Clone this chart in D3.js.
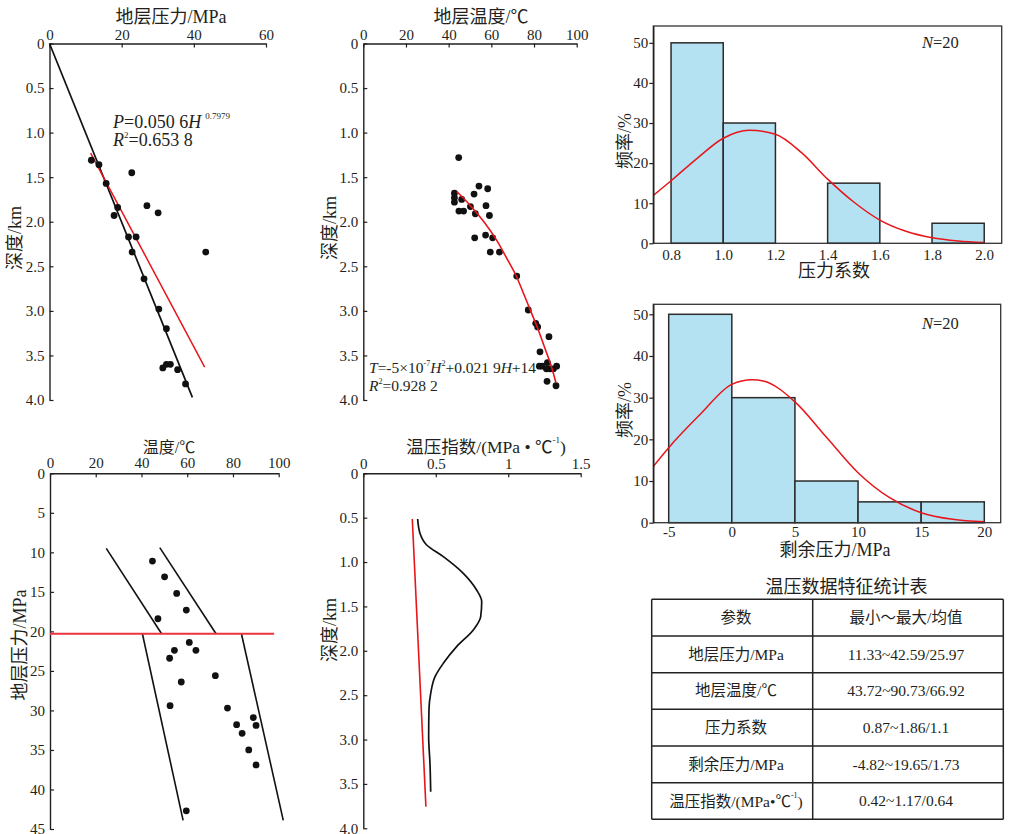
<!DOCTYPE html>
<html><head><meta charset="utf-8">
<script src="https://cdn.jsdelivr.net/npm/d3@7"></script>
<style>
body{margin:0;background:#fff;}
svg{display:block;font-family:"Liberation Serif","Noto Sans CJK SC",serif;}
</style></head><body>
<svg id="c" width="1013" height="834"></svg>
<script>
// ---------------- DATA ----------------
// Panel 1: formation pressure vs depth
const p1Pressure = [11.6,13.7,15.7,18.9,17.9,22.8,27.0,30.1,21.9,24.0,22.9,43.3,26.2,30.3,32.4,31.4,32.4,33.5,35.5,37.7];
const p1Depth    = [1.31,1.36,1.57,1.84,1.93,1.45,1.82,1.90,2.17,2.17,2.34,2.34,2.64,2.98,3.20,3.64,3.60,3.60,3.66,3.82];
const p1BlackP = [0, 39.6], p1BlackH = [0, 3.97];
const p1RedP = [11.4, 43.0], p1RedH = [1.23, 3.63];
const p1XTicks = [0,20,40,60];
const depthTicks = [0,0.5,1.0,1.5,2.0,2.5,3.0,3.5,4.0];
const depthTickLabels = ["0","0.5","1.0","1.5","2.0","2.5","3.0","3.5","4.0"];

// Panel 2: formation temperature vs depth
const p2Temp  = [44.7,42.7,42.7,42.7,46.1,44.8,47.0,50.2,51.9,54.2,58.3,57.5,52.5,59.1,52.2,57.3,60.6,59.5,63.8,71.9,77.3,80.8,81.7,87.0,82.8,82.5,83.9,86.3,85.8,87.5,89.1,90.6,86.1,90.3];
const p2Depth = [1.28,1.68,1.73,1.78,1.75,1.88,1.88,1.83,1.69,1.60,1.63,1.82,1.91,1.93,2.18,2.15,2.18,2.34,2.34,2.61,2.99,3.14,3.18,3.29,3.46,3.62,3.62,3.58,3.65,3.65,3.65,3.62,3.79,3.84];
const p2FitDepth = [1.66,1.8,2.0,2.2,2.4,2.6,2.8,3.0,3.2,3.4,3.6,3.81];
const p2FitTemp  = [43.8,49.5,56.5,62.3,67.0,71.5,75.0,78.4,81.8,84.8,87.8,90.3];
const p2XTicks = [0,20,40,60,80,100];

// Panel 3: temperature vs pressure
const p3Temp     = [44.8,50.1,55.4,59.6,47.2,60.9,63.8,54.4,52.3,57.4,72.3,52.5,77.6,81.6,84.0,88.9,90.1,86.9,90.1,59.6];
const p3Pressure = [11.1,13.1,15.2,17.3,18.4,21.4,22.4,22.4,23.4,26.4,25.6,29.4,29.7,31.8,32.9,30.9,31.9,35.0,36.9,42.7];
const p3Lines = [
  {t:[24.6,48.8], p:[9.5,20.3]},
  {t:[48.0,72.6], p:[9.4,20.3]},
  {t:[40.4,58.2], p:[20.3,43.9]},
  {t:[83.7,102.0], p:[20.3,43.9]}
];
const p3RedT = [0, 98], p3RedP = [20.3, 20.3];
const p3XTicks = [0,20,40,60,80,100];
const p3YTicks = [0,5,10,15,20,25,30,35,40,45];

// Panel 4: temperature-pressure index vs depth
const p4Depth = [0.515,0.676,0.808,0.939,1.127,1.315,1.446,1.615,1.765,1.953,2.141,2.291,2.479,2.667,2.967,3.268,3.587];
const p4Index = [0.375,0.391,0.437,0.552,0.690,0.782,0.817,0.810,0.759,0.644,0.552,0.495,0.465,0.453,0.451,0.460,0.465];
const p4RedIdx = [0.338, 0.432], p4RedDepth = [0.515, 3.756];
const p4XTicks = [0,0.5,1,1.5];
const p4XTickLabels = ["0","0.5","1","1.5"];

// Histogram 1: pressure coefficient
const h1Bins  = [[0.8,1.0],[1.0,1.2],[1.4,1.6],[1.8,2.0]];
const h1Freq  = [50,30,15,5];
const h1CurveX = [0.733,0.8,0.9,1.0,1.1,1.2,1.3,1.4,1.5,1.6,1.7,1.8,1.9,2.0];
const h1CurveY = [12.0,15.6,21.2,26.2,28.2,27.2,22.6,16.0,10.3,5.8,3.0,1.4,0.6,0.2];
const h1XTicks = [0.8,1.0,1.2,1.4,1.6,1.8,2.0];
const histYTicks = [0,10,20,30,40,50];

// Histogram 2: residual pressure
const h2Bins = [[-5,0],[0,5],[5,10],[10,15],[15,20]];
const h2Freq = [50,30,10,5,5];
const h2CurveX = [-6.22,-5,-2.5,0,1.6,2.5,5,7.5,10,12.5,15,17.5,20];
const h2CurveY = [13.5,18,26,33.2,34.3,34,29,20.5,12,6,2.4,0.8,0.2];
const h2XTicks = [-5,0,5,10,15,20];

// Table
const tableTitle = "温压数据特征统计表";
const tableHead = ["参数","最小～最大/均值"];
const tableParams = ["地层压力/MPa","地层温度/℃","压力系数","剩余压力/MPa","温压指数/(MPa•℃-1)"];
const tableValues = ["11.33~42.59/25.97","43.72~90.73/66.92","0.87~1.86/1.1","-4.82~19.65/1.73","0.42~1.17/0.64"];

// ---------------- DRAW ----------------
const INK = "#231f20", RED = "#e8151b";
const svg = d3.select("#c");

function styleAxis(g, fs){
  g.selectAll("path.domain").attr("stroke",INK).attr("stroke-width",1.4);
  g.selectAll(".tick line").attr("stroke",INK).attr("stroke-width",1.2);
  g.selectAll(".tick text").attr("fill",INK).attr("font-size",fs||15)
    .attr("font-family","Liberation Serif, serif");
}
function yLabel(text, cx, cy, fs){
  svg.append("text").attr("transform",`translate(${cx},${cy}) rotate(-90)`)
    .attr("text-anchor","middle").attr("dominant-baseline","central")
    .attr("font-size",fs||18).attr("fill",INK).text(text);
}
function title(text, cx, cy, fs){
  return svg.append("text").attr("x",cx).attr("y",cy).attr("text-anchor","middle")
    .attr("dominant-baseline","central").attr("font-size",fs||18).attr("fill",INK).text(text);
}
function topAxis(x, ty, ticks, labels, pad){
  const g = svg.append("g").attr("transform",`translate(0,${ty})`)
    .call(d3.axisTop(x).tickValues(ticks).tickSizeInner(-4).tickSizeOuter(0).tickPadding(pad||4)
      .tickFormat((d,i)=>labels?labels[i]:d));
  styleAxis(g);
}
function leftAxis(y, tx, ticks, labels){
  const g = svg.append("g").attr("transform",`translate(${tx},0)`)
    .call(d3.axisLeft(y).tickValues(ticks).tickSizeInner(-4).tickSizeOuter(0).tickPadding(5)
      .tickFormat((d,i)=>labels?labels[i]:d));
  styleAxis(g);
}
function dots(xs, ys, x, y){
  svg.append("g").selectAll("circle").data(xs).join("circle")
    .attr("cx",(d)=>x(d)).attr("cy",(d,i)=>y(ys[i])).attr("r",3.4).attr("fill","#111");
}
function pathXY(xs, ys, x, y, color, w, curve){
  const pts = xs.map((d,i)=>[d, ys[i]]);
  svg.append("path").datum(pts)
    .attr("d", d3.line().x(d=>x(d[0])).y(d=>y(d[1])).curve(curve||d3.curveLinear))
    .attr("fill","none").attr("stroke",color).attr("stroke-width",w||1.6);
}

// ---- Panel 1 ----
{
  const x = d3.scaleLinear().domain([0,60]).range([49.5,266]);
  const y = d3.scaleLinear().domain([0,4]).range([43.5,400]);
  topAxis(x, 43.5, p1XTicks);
  leftAxis(y, 49.5, depthTicks, depthTickLabels);
  title("地层压力/MPa", 171, 17);
  yLabel("深度/km", 15, 238);
  pathXY(p1BlackP, p1BlackH, x, y, "#111", 1.7);
  pathXY(p1RedP, p1RedH, x, y, RED, 1.5);
  dots(p1Pressure, p1Depth, x, y);
  const t1 = svg.append("text").attr("x",113).attr("y",128).attr("font-size",18).attr("fill",INK);
  t1.append("tspan").attr("font-style","italic").text("P");
  t1.append("tspan").text("=0.050 6");
  t1.append("tspan").attr("font-style","italic").text("H");
  t1.append("tspan").attr("font-size",9).attr("dx",4).attr("dy",-9).text("0.7979");
  const t2 = svg.append("text").attr("x",113).attr("y",146).attr("font-size",18).attr("fill",INK);
  t2.append("tspan").attr("font-style","italic").text("R");
  t2.append("tspan").attr("font-size",9).attr("dy",-8).text("2");
  t2.append("tspan").attr("dy",8).text("=0.653 8");
}

// ---- Panel 2 ----
{
  const x = d3.scaleLinear().domain([0,100]).range([363.3,576.7]);
  const y = d3.scaleLinear().domain([0,4]).range([43.5,400]);
  topAxis(x, 43.5, p2XTicks);
  leftAxis(y, 363.3, depthTicks, depthTickLabels);
  title("地层温度/℃", 481, 17);
  yLabel("深度/km", 330, 228);
  dots(p2Temp, p2Depth, x, y);
  pathXY(p2FitTemp, p2FitDepth, x, y, RED, 1.6, d3.curveCatmullRom);
  const t1 = svg.append("text").attr("x",369).attr("y",373).attr("font-size",15.5).attr("fill",INK);
  t1.append("tspan").attr("font-style","italic").text("T");
  t1.append("tspan").text("=-5×10");
  t1.append("tspan").attr("font-size",8).attr("dy",-7).text("-7");
  t1.append("tspan").attr("font-style","italic").attr("dy",7).text("H");
  t1.append("tspan").attr("font-size",8).attr("dy",-7).text("2");
  t1.append("tspan").attr("dy",7).text("+0.021 9");
  t1.append("tspan").attr("font-style","italic").text("H");
  t1.append("tspan").text("+14");
  const t2 = svg.append("text").attr("x",369).attr("y",391).attr("font-size",15.5).attr("fill",INK);
  t2.append("tspan").attr("font-style","italic").text("R");
  t2.append("tspan").attr("font-size",8).attr("dy",-7).text("2");
  t2.append("tspan").attr("dy",7).text("=0.928 2");
}

// ---- Panel 3 ----
{
  const x = d3.scaleLinear().domain([0,100]).range([50,278.7]);
  const y = d3.scaleLinear().domain([0,45]).range([473.3,829]);
  topAxis(x, 473.3, p3XTicks, null, 5);
  leftAxis(y, 50, p3YTicks);
  title("温度/℃", 169, 447, 16);
  yLabel("地层压力/MPa", 20, 645);
  p3Lines.forEach(l=>pathXY(l.t, l.p, x, y, "#111", 1.6));
  pathXY(p3RedT, p3RedP, x, y, "#ee3340", 2);
  dots(p3Temp, p3Pressure, x, y);
}

// ---- Panel 4 ----
{
  const x = d3.scaleLinear().domain([0,1.5]).range([363.3,580.7]);
  const y = d3.scaleLinear().domain([0,4]).range([473.3,828.3]);
  topAxis(x, 473.3, p4XTicks, p4XTickLabels, 4);
  leftAxis(y, 363.3, depthTicks, depthTickLabels);
  const t = svg.append("text").attr("x",486).attr("y",447).attr("text-anchor","middle")
    .attr("dominant-baseline","central").attr("font-size",17.5).attr("fill",INK);
  t.append("tspan").text("温压指数/(MPa • ℃");
  t.append("tspan").attr("font-size",9).attr("dy",-7).text("-1");
  t.append("tspan").attr("dy",7).text(")");
  yLabel("深度/km", 330, 630);
  pathXY(p4RedIdx, p4RedDepth, x, y, RED, 1.6);
  pathXY(p4Index, p4Depth, x, y, "#111", 1.7, d3.curveMonotoneY);
}

// ---- Histograms ----
function histogram(o){
  const x = d3.scaleLinear().domain(o.xDom).range([o.x0,o.x1]);
  const y = d3.scaleLinear().domain(o.yDom).range([o.y1,o.y0]);
  svg.append("g").selectAll("rect").data(o.bins).join("rect")
    .attr("x",d=>x(d[0])).attr("width",d=>x(d[1])-x(d[0]))
    .attr("y",(d,i)=>y(o.freq[i])).attr("height",(d,i)=>y(0)-y(o.freq[i]))
    .attr("fill","#b5e2f3").attr("stroke","#2b2b2b").attr("stroke-width",1.5);
  pathXY(o.cx, o.cy, x, y, RED, 1.5, d3.curveMonotoneX);
  svg.append("rect").attr("x",o.x0).attr("y",o.y0).attr("width",o.x1-o.x0).attr("height",o.y1-o.y0)
    .attr("fill","none").attr("stroke","#333").attr("stroke-width",1.3);
  const gy = svg.append("g").attr("transform",`translate(${o.x0},0)`)
    .call(d3.axisLeft(y).tickValues(histYTicks).tickSizeInner(4).tickSizeOuter(0).tickPadding(1));
  styleAxis(gy);
  const gx = svg.append("g").attr("transform",`translate(0,${o.y1})`)
    .call(d3.axisBottom(x).tickValues(o.xticks).tickSizeInner(0).tickSizeOuter(0).tickPadding(o.xpad)
      .tickFormat(o.fmt));
  styleAxis(gx);
  gx.select("path.domain").remove();
  title(o.xlabel, o.xlx, o.xly, 18);
  yLabel("频率/%", 625, o.ylc, 18);
  const n = svg.append("text").attr("x",922).attr("y",o.ny).attr("font-size",16.5).attr("fill",INK);
  n.append("tspan").attr("font-style","italic").text("N");
  n.append("tspan").text("=20");
}
histogram({xDom:[0.732,2.067], yDom:[0,54.2], x0:653.3, x1:1001.7, y0:26, y1:243.3,
  bins:h1Bins, freq:h1Freq, cx:h1CurveX, cy:h1CurveY, xticks:h1XTicks, fmt:d3.format(".1f"), xpad:6,
  xlabel:"压力系数", xlx:834, xly:271, ylc:141, ny:48});
histogram({xDom:[-6.22,21.3], yDom:[0,52.4], x0:653.3, x1:1000.7, y0:304.3, y1:522.7,
  bins:h2Bins, freq:h2Freq, cx:h2CurveX, cy:h2CurveY, xticks:h2XTicks, fmt:d=>String(d), xpad:4,
  xlabel:"剩余压力/MPa", xlx:835, xly:550, ylc:410, ny:329});

// ---- Table ----
{
  const left = 651.7, mid = 812.7, right = 1003.3, top = 599.3, rows = tableParams.length + 1;
  const rowY = d3.scaleLinear().domain([0, rows]).range([top, 819.3]);
  title(tableTitle, 846.5, 587, 18);
  const g = svg.append("g").attr("stroke","#222").attr("stroke-width",1.5);
  d3.range(rows+1).forEach(i=>g.append("line").attr("x1",left).attr("x2",right).attr("y1",rowY(i)).attr("y2",rowY(i)));
  [left, mid, right].forEach(xv=>g.append("line").attr("x1",xv).attr("x2",xv).attr("y1",rowY(0)).attr("y2",rowY(rows)));
  const c1 = 736, c2 = 906;
  const cellText = (txt, cx, r) => svg.append("text").attr("x",cx).attr("y",(rowY(r)+rowY(r+1))/2)
      .attr("text-anchor","middle").attr("dominant-baseline","central").attr("font-size",15.5).attr("fill",INK).text(txt);
  cellText(tableHead[0], c1, 0);
  cellText(tableHead[1], c2, 0);
  tableParams.forEach((p,i)=>{
    if (p.endsWith("-1)")) {
      const t = svg.append("text").attr("x",c1).attr("y",(rowY(i+1)+rowY(i+2))/2)
        .attr("text-anchor","middle").attr("dominant-baseline","central").attr("font-size",15.5).attr("fill",INK);
      t.append("tspan").text(p.slice(0,-3));
      t.append("tspan").attr("font-size",8).attr("dy",-6).text("-1");
      t.append("tspan").attr("dy",6).text(")");
    } else cellText(p, c1, i+1);
    cellText(tableValues[i], c2, i+1);
  });
}
</script>
</body></html>
